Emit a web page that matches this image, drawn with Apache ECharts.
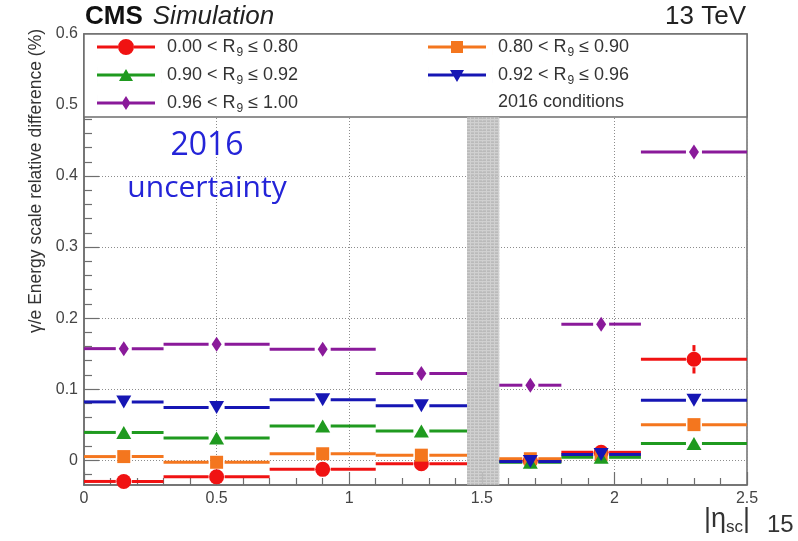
<!DOCTYPE html>
<html>
<head>
<meta charset="utf-8">
<script src="https://cdn.jsdelivr.net/npm/echarts@6/dist/echarts.min.js"></script>
<style>
  html, body { margin: 0; padding: 0; background: #fff; }
  #chart { width: 798px; height: 541px; }
</style>
</head>
<body>
<div id="chart"></div>
<script>
// |eta_SC| bins (barrel 0-1.4442, gap, endcap 1.566-2.5)
const binLow    = [0.0, 0.3, 0.7, 1.1,    1.566, 1.8,  2.1];
const binHigh   = [0.3, 0.7, 1.1, 1.4442, 1.8,   2.1,  2.5];
const binCenter = [0.15, 0.5, 0.9, 1.2721, 1.683, 1.95, 2.3];

// gamma/e energy scale relative difference (%) per R9 category
const r9Low    = [-0.030, -0.0235, -0.013, -0.005, -0.001, 0.011, 0.142];
const r9Mid    = [ 0.005, -0.003,   0.009,  0.007,  0.002, 0.008, 0.050];
const r9Upper1 = [ 0.039,  0.031,   0.048,  0.041, -0.003, 0.004, 0.0235];
const r9Upper2 = [ 0.082,  0.074,   0.085,  0.0765,-0.002, 0.008, 0.0845];
const r9High   = [ 0.157,  0.163,   0.156,  0.122,  0.1055,0.1915,0.434];

// statistical uncertainties on each point
const errLow    = [0.003, 0.004, 0.004, 0.003, 0.003, 0.004, 0.020];
const errMid    = [0.003, 0.003, 0.003, 0.003, 0.003, 0.003, 0.004];
const errUpper1 = [0.003, 0.003, 0.003, 0.003, 0.003, 0.003, 0.006];
const errUpper2 = [0.003, 0.003, 0.003, 0.003, 0.003, 0.003, 0.004];
const errHigh   = [0.003, 0.003, 0.003, 0.003, 0.003, 0.003, 0.004];

const seriesNames = [
  '0.00 < R9 ≤ 0.80',
  '0.80 < R9 ≤ 0.90',
  '0.90 < R9 ≤ 0.92',
  '0.92 < R9 ≤ 0.96',
  '0.96 < R9 ≤ 1.00'
];

// axis ticks and labels
const xTicks  = [0, 0.5, 1, 1.5, 2, 2.5];
const yMajor  = [0, 0.1, 0.2, 0.3, 0.4, 0.5, 0.6];
const yMinor  = [-0.02, 0.02, 0.04, 0.06, 0.08, 0.12, 0.14, 0.16, 0.18, 0.22, 0.24, 0.26, 0.28,
                 0.32, 0.34, 0.36, 0.38, 0.42, 0.44, 0.46, 0.48];
const yMin = -0.035, yMax = 0.6;
const legendFloor = 0.483;          // lower edge of the legend panel
const crackLow = 1.4442, crackHigh = 1.566;  // barrel/endcap transition

const colors = ['#f01212', '#f4761e', '#1f9a1f', '#1616b4', '#8a1a9a'];
const values = [r9Low, r9Mid, r9Upper1, r9Upper2, r9High];
const errors = [errLow, errMid, errUpper1, errUpper2, errHigh];
const symbols = ['circle', 'rect', 'triangle', 'triangle', 'diamond'];
const symbolSizes = [15, 13, [15, 13], [15, 13], [10, 15]];
const symbolRotates = [0, 0, 0, 180, 0];

// legend glyphs: horizontal bar with the marker drawn in the middle;
// hairline guides at x=0 and x=65 pin the glyph box so the label sits clear of it
const box = 'M0 0 H0.01 V16 H0 Z M64.99 0 H65 V16 H64.99 Z ';
const icons = [
  'path://' + box + 'M0 6.5 H21 V9.5 H0 Z M37 6.5 H58 V9.5 H37 Z M21 8 A8 8 0 1 0 37 8 A8 8 0 1 0 21 8 Z',
  'path://' + box + 'M0 6.5 H58 V9.5 H0 Z M23 2 H35 V14 H23 Z',
  'path://' + box + 'M0 6.5 H58 V9.5 H0 Z M29 2 L36 14 L22 14 Z',
  'path://' + box + 'M0 6.5 H58 V9.5 H0 Z M22 3 L36 3 L29 15 Z',
  'path://' + box + 'M0 6.5 H58 V9.5 H0 Z M29 1 L33.5 8 L29 15 L24.5 8 Z'
];

const FONT = '"Liberation Sans", Arial, Helvetica, sans-serif';

function errorBars(color, gap) {
  return function (params, api) {
    const y = api.value(3), e = api.value(4), xc = api.value(2);
    const pL = api.coord([api.value(0), y]);
    const pH = api.coord([api.value(1), y]);
    const pC = api.coord([xc, y]);
    const pT = api.coord([xc, y + e]);
    const pB = api.coord([xc, y - e]);
    const st = { stroke: color, lineWidth: 3 };
    const kids = [];
    if (pC[0] - gap > pL[0]) kids.push({ type: 'line', shape: { x1: pL[0], y1: pL[1], x2: pC[0] - gap, y2: pC[1] }, style: st });
    if (pH[0] > pC[0] + gap) kids.push({ type: 'line', shape: { x1: pC[0] + gap, y1: pC[1], x2: pH[0], y2: pH[1] }, style: st });
    if (pC[1] - gap > pT[1]) kids.push({ type: 'line', shape: { x1: pT[0], y1: pT[1], x2: pC[0], y2: pC[1] - gap }, style: st });
    if (pB[1] > pC[1] + gap) kids.push({ type: 'line', shape: { x1: pC[0], y1: pC[1] + gap, x2: pB[0], y2: pB[1] }, style: st });
    return { type: 'group', children: kids };
  };
}

function crackBand(params, api) {
  const a = api.coord([api.value(0), legendFloor]);
  const b = api.coord([api.value(1), yMin]);
  const kids = [{ type: 'rect', shape: { x: a[0], y: a[1], width: b[0] - a[0], height: b[1] - a[1] },
                  style: { fill: 'rgba(200,200,200,0.85)' } }];
  for (let yy = a[1] + 1; yy < b[1]; yy += 3) {
    kids.push({ type: 'line', shape: { x1: a[0], y1: yy, x2: b[0], y2: yy },
                style: { stroke: 'rgba(140,140,140,0.55)', lineWidth: 1, lineDash: [3, 1] } });
  }
  return { type: 'group', children: kids };
}

const series = [{
  type: 'custom',
  name: 'crack',
  z: 2,
  silent: true,
  renderItem: crackBand,
  encode: { x: [0, 1], y: 2 },
  data: [[crackLow, crackHigh, 0]],
  markArea: {
    silent: true,
    itemStyle: { color: '#ffffff', borderColor: '#6e6e6e', borderWidth: 1.5 },
    data: [[{ coord: [0, legendFloor] }, { coord: [2.5, yMax] }]]
  }
}];

values.forEach((vals, k) => {
  series.push({
    type: 'custom',
    name: seriesNames[k],
    z: 3,
    itemStyle: { color: colors[k] },
    renderItem: errorBars(colors[k], 8),
    encode: { x: [0, 1, 2], y: 3 },
    data: binCenter.map((c, i) => [binLow[i], binHigh[i], c, vals[i], errors[k][i]])
  });
  series.push({
    type: 'scatter',
    name: seriesNames[k],
    z: 3,
    symbol: symbols[k],
    symbolSize: symbolSizes[k],
    symbolRotate: symbolRotates[k],
    itemStyle: { color: colors[k], opacity: 1 },
    data: binCenter.map((c, i) => [c, vals[i]])
  });
});

const legendText = {
  fontSize: 18, fontFamily: FONT, color: '#333', lineHeight: 22,
  rich: { sub: { fontSize: 12, fontFamily: FONT, color: '#333', lineHeight: 12, padding: [12, 0, 0, 1] } }
};
const fmt = name => name.replace('R9', 'R{sub|9}');

const chart = echarts.init(document.getElementById('chart'), null, { renderer: 'canvas' });
chart.setOption({
  animation: false,
  backgroundColor: '#ffffff',
  grid: { left: 84, right: 51, top: 34, bottom: 56, show: true, borderColor: '#6e6e6e', borderWidth: 1.5, backgroundColor: 'transparent' },
  xAxis: {
    type: 'value', min: 0, max: 2.5, interval: 0.5,
    axisLine: { show: true, onZero: false, lineStyle: { color: '#6e6e6e', width: 1.5 } },
    axisTick: { show: true, inside: true, length: 13, lineStyle: { color: '#6e6e6e', width: 1.2 } },
    minorTick: { show: true, splitNumber: 5, length: 7, lineStyle: { color: '#6e6e6e', width: 1.2 } },
    axisLabel: { fontSize: 16, fontFamily: FONT, color: '#444', margin: 6,
                 formatter: v => (xTicks.indexOf(v) >= 0 ? String(v) : '') },
    splitLine: { show: true, lineStyle: { color: '#8c8c8c', type: [1, 2], width: 1 } }
  },
  yAxis: [{
    type: 'value', min: yMin, max: yMax,
    axisLine: { show: true, onZero: false, lineStyle: { color: '#6e6e6e', width: 1.5 } },
    axisTick: { show: true, inside: true, length: 15, customValues: yMajor, lineStyle: { color: '#6e6e6e', width: 1.2 } },
    axisLabel: { customValues: yMajor, fontSize: 16, fontFamily: FONT, color: '#444', margin: 6,
                 formatter: v => String(v) },
    splitLine: { show: true, lineStyle: { color: '#8c8c8c', type: [1, 2], width: 1 } }
  }, {
    type: 'value', min: yMin, max: yMax, position: 'left', offset: 0,
    axisLine: { show: false },
    axisTick: { show: true, inside: true, length: 8, customValues: yMinor, lineStyle: { color: '#6e6e6e', width: 1.2 } },
    axisLabel: { show: false },
    splitLine: { show: false }
  }],
  legend: [{
    left: 97, top: 35, padding: 0, orient: 'vertical', itemWidth: 65, itemHeight: 16, itemGap: 4,
    selectedMode: false, formatter: fmt, textStyle: legendText, z: 5,
    data: [0, 2, 4].map(k => ({ name: seriesNames[k], icon: icons[k] }))
  }, {
    left: 428, top: 35, padding: 0, orient: 'vertical', itemWidth: 65, itemHeight: 16, itemGap: 4,
    selectedMode: false, formatter: fmt, textStyle: legendText, z: 5,
    data: [1, 3].map(k => ({ name: seriesNames[k], icon: icons[k] }))
  }],
  graphic: [
    { type: 'text', left: 85, top: 4, z: 10,
      style: { text: '{b|CMS}{i|Simulation}', fill: '#111',
               rich: { b: { fontSize: 26, fontWeight: 'bold', fontFamily: FONT, fill: '#111' },
                       i: { fontSize: 26, fontStyle: 'italic', fontFamily: FONT, fill: '#222', padding: [0, 0, 0, 10] } } } },
    { type: 'text', right: 52, top: 4, z: 10,
      style: { text: '13 TeV', fontSize: 26, fontFamily: FONT, fill: '#222' } },
    { type: 'text', x: 498, y: 102, z: 10,
      style: { text: '2016 conditions', fontSize: 18, fontFamily: FONT, fill: '#333', textVerticalAlign: 'middle' } },
    { type: 'text', x: 207, y: 146, z: 10,
      style: { text: '2016', fontSize: 32, fontFamily: '"Open Sans", sans-serif', fill: '#2424d8',
               textAlign: 'center', textVerticalAlign: 'middle' } },
    { type: 'text', x: 207, y: 188, z: 10,
      style: { text: 'uncertainty', fontSize: 30, fontFamily: '"Open Sans", sans-serif', fill: '#2424d8',
               textAlign: 'center', textVerticalAlign: 'middle' } },
    { type: 'text', x: 36, y: 181, rotation: Math.PI / 2, z: 10,
      style: { text: 'γ/e Energy scale relative difference (%)', fontSize: 17.5, fontFamily: FONT, fill: '#333',
               textAlign: 'center', textVerticalAlign: 'middle' } },
    { type: 'text', left: 704, top: 506, z: 10,
      style: { text: '|η{s|sc}|', fontSize: 27, fontFamily: FONT, fill: '#333',
               rich: { s: { fontSize: 17, fontFamily: FONT, fill: '#333', padding: [16, 0, 0, 0] } } } },
    { type: 'text', left: 767, top: 513, z: 10,
      style: { text: '15', fontSize: 24, fontFamily: FONT, fill: '#333' } }
  ],
  series: series
});
</script>
</body>
</html>
